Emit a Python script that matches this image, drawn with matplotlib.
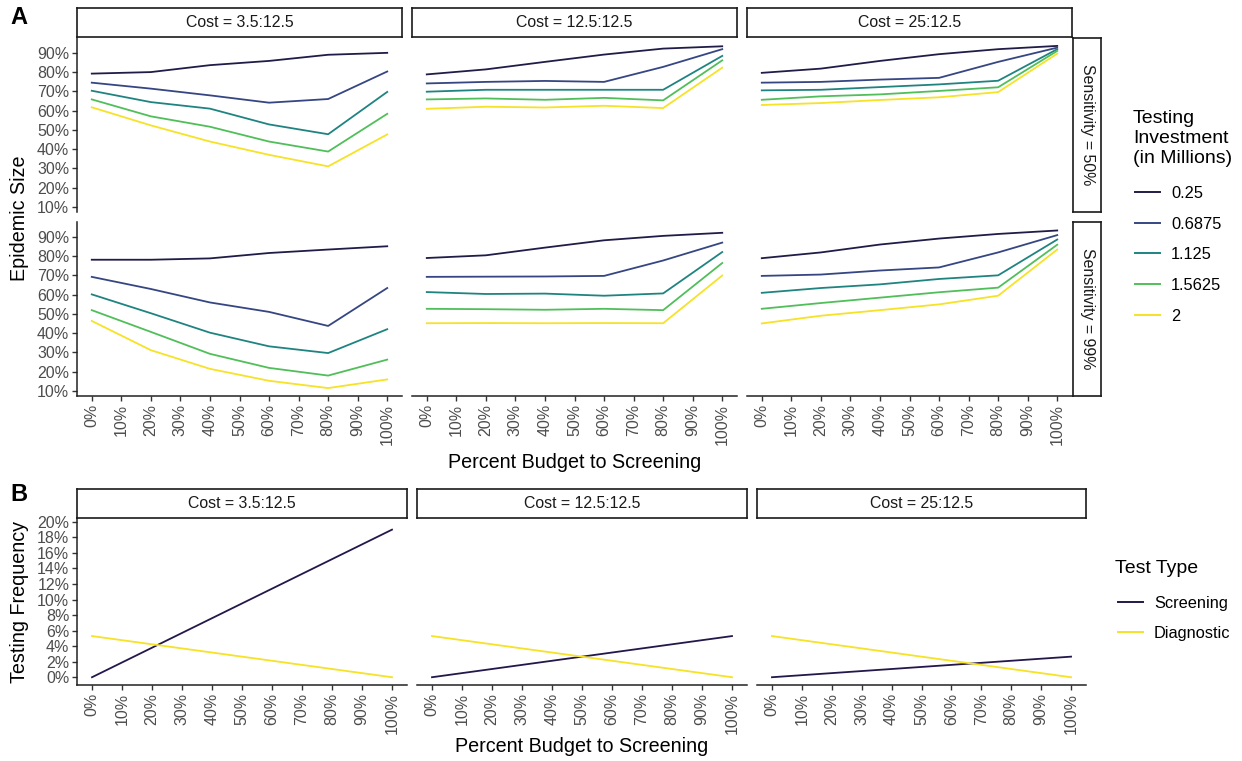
import matplotlib
matplotlib.use("Agg")
import matplotlib.pyplot as plt
from matplotlib.lines import Line2D

plt.rcParams['font.family'] = ['Liberation Sans', 'DejaVu Sans']

W, H = 1242, 761

# ---------------- data ----------------
budget = [0, 20, 40, 60, 80, 100]
investments = ["0.25", "0.6875", "1.125", "1.5625", "2"]
inv_colors = ['#201c48', '#354682', '#1f8480', '#50bf5a', '#f6e226']
costs = ["Cost = 3.5:12.5", "Cost = 12.5:12.5", "Cost = 25:12.5"]
sensitivities = ["Sensitivity = 50%", "Sensitivity = 99%"]

# Epidemic size (%) [sensitivity][cost][investment]
sens50_cost35 = [
    [79.2, 80.0, 83.6, 85.8, 89.0, 90.0],
    [74.5, 71.4, 67.9, 64.1, 66.0, 80.3],
    [70.3, 64.4, 61.0, 52.8, 47.7, 69.7],
    [65.8, 57.0, 51.6, 43.9, 38.7, 58.3],
    [61.7, 52.3, 43.9, 37.0, 31.0, 47.6],
]
sens50_cost125 = [
    [78.8, 81.4, 85.3, 89.1, 92.2, 93.4],
    [74.1, 74.9, 75.4, 74.9, 82.7, 91.9],
    [69.8, 70.8, 70.8, 70.8, 70.8, 88.4],
    [65.8, 66.3, 65.6, 66.6, 65.3, 86.1],
    [60.9, 62.0, 61.6, 62.5, 61.3, 82.3],
]
sens50_cost25 = [
    [79.6, 81.8, 85.8, 89.3, 91.9, 93.6],
    [74.5, 74.9, 76.1, 77.0, 85.3, 92.7],
    [70.5, 70.8, 72.2, 73.6, 75.5, 91.9],
    [65.6, 67.4, 68.4, 70.2, 72.1, 91.0],
    [62.9, 63.9, 65.5, 66.9, 69.6, 89.6],
]
sens99_cost35 = [
    [78.1, 78.1, 78.8, 81.6, 83.4, 85.1],
    [69.2, 62.9, 55.9, 51.0, 43.7, 63.4],
    [60.1, 50.3, 40.2, 33.1, 29.6, 42.0],
    [51.9, 40.6, 29.2, 21.9, 17.9, 26.2],
    [46.3, 31.1, 21.4, 15.2, 11.4, 15.9],
]
sens99_cost125 = [
    [79.0, 80.4, 84.4, 88.2, 90.5, 92.1],
    [69.2, 69.3, 69.4, 69.7, 77.7, 87.0],
    [61.3, 60.3, 60.5, 59.4, 60.6, 82.1],
    [52.6, 52.4, 52.1, 52.6, 51.9, 76.4],
    [45.1, 45.2, 45.1, 45.2, 45.1, 69.9],
]
sens99_cost25 = [
    [78.9, 81.9, 86.0, 89.1, 91.5, 93.3],
    [69.7, 70.4, 72.5, 74.1, 81.9, 90.9],
    [60.9, 63.4, 65.3, 68.1, 70.0, 88.6],
    [52.6, 55.6, 58.4, 61.2, 63.6, 85.9],
    [45.0, 49.0, 51.9, 54.9, 59.4, 83.4],
]
epidemic = [[sens50_cost35, sens50_cost125, sens50_cost25],
            [sens99_cost35, sens99_cost125, sens99_cost25]]

# Testing frequency (%) per cost
test_types = ["Screening", "Diagnostic"]
type_colors = ['#24174a', '#f6e226']
screening_freq = [
    [0.0, 3.8, 7.6, 11.4, 15.2, 19.0],
    [0.0, 1.06, 2.12, 3.18, 4.24, 5.3],
    [0.0, 0.53, 1.06, 1.59, 2.12, 2.65],
]
diagnostic_freq = [
    [5.3, 4.24, 3.18, 2.12, 1.06, 0.0],
    [5.3, 4.24, 3.18, 2.12, 1.06, 0.0],
    [5.3, 4.24, 3.18, 2.12, 1.06, 0.0],
]

xticks = list(range(0, 101, 10))
xticklabels = [f"{v}%" for v in xticks]
yticksA = list(range(10, 91, 10))
yticksB = list(range(0, 21, 2))

# ---------------- layout helpers ----------------
fig = plt.figure(figsize=(W / 100, H / 100), dpi=100)


def add_px(x0, x1, y0, y1):
    return fig.add_axes([x0 / W, 1 - y1 / H, (x1 - x0) / W, (y1 - y0) / H])


def fx(x):
    return x / W


def fy(y):
    return 1 - y / H


TICK_FS = 11.5
TITLE_FS = 14.2
STRIP_FS = 11.4
LEG_FS = 11.8
TICK_COL = '#4d4d4d'
LW = 1.3


def style_axes(ax, left, bottom):
    for s in ['top', 'right']:
        ax.spines[s].set_visible(False)
    ax.spines['left'].set_visible(left)
    ax.spines['bottom'].set_visible(bottom)
    for s in ['left', 'bottom']:
        ax.spines[s].set_linewidth(1.1)
        ax.spines[s].set_color('#222222')
    ax.tick_params(axis='both', length=3.5, width=1.0, color='#333333',
                   labelsize=TICK_FS, labelcolor=TICK_COL, pad=2)
    ax.tick_params(axis='y', left=left, labelleft=left)
    ax.tick_params(axis='x', bottom=bottom, labelbottom=bottom, labelrotation=90)
    ax.set_facecolor('none')


def strip(x0, x1, y0, y1, text, rot=0):
    sa = add_px(x0, x1, y0, y1)
    sa.set_xticks([])
    sa.set_yticks([])
    for s in sa.spines.values():
        s.set_linewidth(1.2)
        s.set_color('#1a1a1a')
    sa.set_facecolor('white')
    sa.text(0.5, 0.5, text, ha='center', va='center', rotation=rot,
            fontsize=STRIP_FS, color='#1a1a1a', transform=sa.transAxes)
    return sa


def manual_legend(title_lines, title_x, title_baselines, labels, colors,
                  ys, hx0, hx1, tx):
    for line, yb in zip(title_lines, title_baselines):
        fig.text(fx(title_x), fy(yb), line, ha='left', va='baseline',
                 fontsize=14, color='black')
    for lab, col, y in zip(labels, colors, ys):
        fig.add_artist(Line2D([fx(hx0), fx(hx1)], [fy(y), fy(y)],
                              transform=fig.transFigure, color=col, lw=1.4))
        fig.text(fx(tx), fy(y), lab, ha='left', va='center_baseline',
                 fontsize=LEG_FS, color='black')


# ---------------- Panel A ----------------
colsA = [(77, 402), (412, 737), (747, 1072)]
rowsA = [(38, 212), (222, 396)]
allvals = [v for sens in epidemic for cost in sens for inv in cost for v in inv]
lo, hi = min(allvals), max(allvals)
pad = (hi - lo) * 0.05
ylimA = (lo - pad, hi + pad)

for r, (y0, y1) in enumerate(rowsA):
    for c, (x0, x1) in enumerate(colsA):
        ax = add_px(x0, x1, y0, y1)
        for k, inv in enumerate(investments):
            ax.plot(budget, epidemic[r][c][k], color=inv_colors[k], lw=LW,
                    label=inv, solid_joinstyle='round')
        ax.set_xlim(-5, 105)
        ax.set_ylim(*ylimA)
        ax.set_xticks(xticks)
        ax.set_xticklabels(xticklabels)
        ax.set_yticks(yticksA)
        ax.set_yticklabels([f"{v}%" for v in yticksA])
        style_axes(ax, left=(c == 0), bottom=(r == 1))

for c, (x0, x1) in enumerate(colsA):
    strip(x0, x1, 8, 37, costs[c])
for r, (y0, y1) in enumerate(rowsA):
    strip(1073, 1101, y0, y1, sensitivities[r], rot=-90)

fig.text(fx(575), fy(462), "Percent Budget to Screening", ha='center', va='center',
         fontsize=TITLE_FS)
fig.text(fx(20), fy(218), "Epidemic Size", ha='center', va='center',
         rotation=90, fontsize=TITLE_FS)
fig.text(fx(10), fy(18), "A", ha='left', va='center', fontsize=17, fontweight='bold')

manual_legend(["Testing", "Investment", "(in Millions)"], 1133, [123, 143, 163],
              investments, inv_colors, [192, 223, 253, 284, 315],
              1135, 1160, 1171)

# ---------------- Panel B ----------------
colsB = [(77, 407), (417, 747), (757, 1086)]
yB = (518, 685)
for c, (x0, x1) in enumerate(colsB):
    ax = add_px(x0, x1, yB[0], yB[1])
    ax.plot(budget, screening_freq[c], color=type_colors[0], lw=LW)
    ax.plot(budget, diagnostic_freq[c], color=type_colors[1], lw=LW)
    ax.set_xlim(-5, 105)
    ax.set_ylim(-1.0, 20.5)
    ax.set_xticks(xticks)
    ax.set_xticklabels(xticklabels)
    ax.set_yticks(yticksB)
    ax.set_yticklabels([f"{v}%" for v in yticksB])
    style_axes(ax, left=(c == 0), bottom=True)
    strip(x0, x1, 489, 518, costs[c])

fig.text(fx(582), fy(747), "Percent Budget to Screening", ha='center', va='center',
         fontsize=TITLE_FS)
fig.text(fx(20), fy(602), "Testing Frequency", ha='center', va='center',
         rotation=90, fontsize=TITLE_FS)
fig.text(fx(10), fy(494), "B", ha='left', va='center', fontsize=17, fontweight='bold')

manual_legend(["Test Type"], 1115, [573], test_types, type_colors, [602, 632],
              1118, 1143, 1154)

fig.savefig("out.png", dpi=100, facecolor='white')
